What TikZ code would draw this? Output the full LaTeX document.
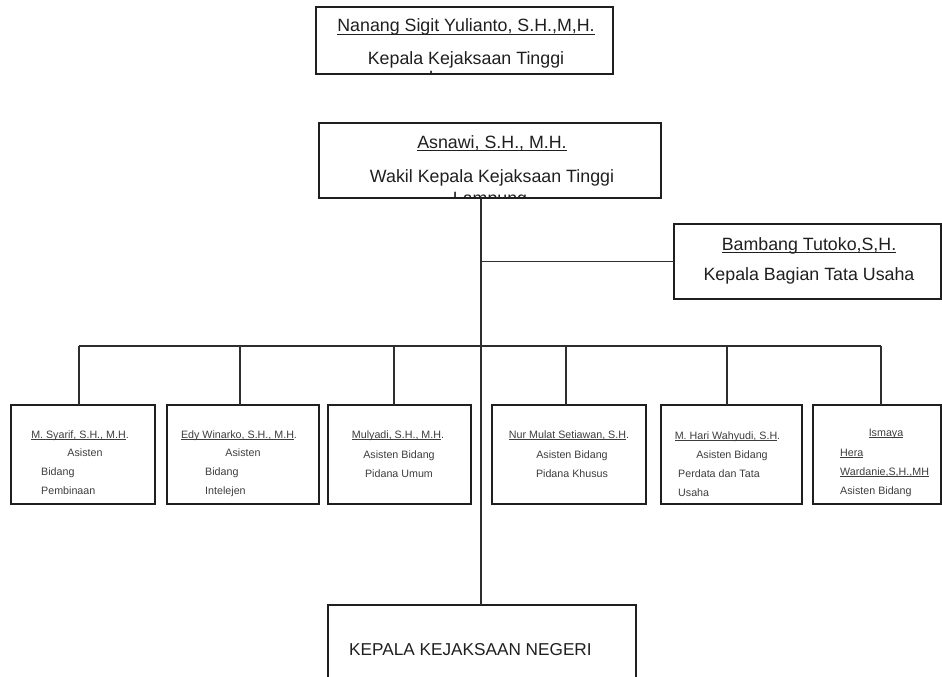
\documentclass[tikz,border=0pt]{standalone}
\usepackage{fontspec}
\setmainfont{Liberation Sans}
\newcommand\uln[1]{{\setbox0\hbox{#1}\rlap{\rule[-0.17em]{\wd0}{0.07em}}\box0}}
\begin{document}
\begin{tikzpicture}[x=1pt,y=-1pt,
  box/.style={draw=black!88, line width=1.8pt, inner sep=0pt, outer sep=0pt, rectangle},
  conn/.style={draw=black!82, line width=1.2pt},
  big/.style={font=\fontsize{17.8}{20}\selectfont, text=black!88, inner sep=0pt, anchor=base},
  small/.style={font=\fontsize{10.7}{12}\selectfont, text=black!76, inner sep=0pt, anchor=base},
  lalign/.style={anchor=base west}]
\useasboundingbox (0,0) rectangle (942,677);
\clip (0,0) rectangle (942,677);
% boxes
\node[box, minimum width=297, minimum height=67] (top) at (464.5,40.5) {};
\node[box, minimum width=342, minimum height=75] (wakil) at (490,160.5) {};
\node[box, minimum width=267, minimum height=75] (kabag) at (807.5,261.5) {};
\node[box, minimum width=144, minimum height=99] (a1) at (83,454.5) {};
\node[box, minimum width=152, minimum height=99] (a2) at (243,454.5) {};
\node[box, minimum width=143, minimum height=99] (a3) at (399.5,454.5) {};
\node[box, minimum width=154, minimum height=99] (a4) at (569,454.5) {};
\node[box, minimum width=141, minimum height=99] (a5) at (731.5,454.5) {};
\node[box, minimum width=128, minimum height=99] (a6) at (877,454.5) {};
\node[box, minimum width=308, minimum height=100, anchor=north] (kajari) at (482,605) {};
% connectors
\coordinate (trunk) at (481,346);
\coordinate (d1) at (79,346);
\coordinate (d2) at (240,346);
\coordinate (d3) at (394,346);
\coordinate (d4) at (566,346);
\coordinate (d5) at (727,346);
\coordinate (d6) at (881,346);
\draw[conn] (trunk |- wakil.south) -- (trunk |- kajari.north);
\draw[conn] (trunk |- kabag.west) -- (kabag.west);
\draw[conn] (d1) -- (d6);
\foreach \i in {1,...,6} { \draw[conn] (d\i) -- (d\i |- a\i.north); }
% top box text
\node[big] (tn1) at (466,32) {\uln{Nanang Sigit Yulianto, S.H.,M,H.}};
\node[big] (tn2) at (466,64) {Kepala Kejaksaan Tinggi};
\begin{scope}
  \clip (top.north west) rectangle (top.south east);
  \node[big] (tn3) at (466,84) {Lampung};
\end{scope}
% wakil text
\node[big] (wn1) at (492,148) {\uln{Asnawi, S.H., M.H.}};
\node[big] (wn2) at (492,182) {Wakil Kepala Kejaksaan Tinggi};
\begin{scope}
  \clip (wakil.north west) rectangle (wakil.south east);
  \node[big] (wn3) at (490,204) {Lampung};
\end{scope}
% kabag text
\node[big] (kn1) at (809,250) {\uln{Bambang Tutoko,S,H.}};
\node[big] (kn2) at (809,280) {Kepala Bagian Tata Usaha};
% kajari text
\node[big, lalign, font=\fontsize{17.2}{20}\selectfont] (jn1) at (349,655) {KEPALA KEJAKSAAN NEGERI};
% a1
\node[small] (s11) at (80,438) {\uln{M. Syarif, S.H., M.H}.};
\node[small] (s12) at (85,456) {Asisten};
\node[small, lalign] (s13) at (41,475) {Bidang};
\node[small, lalign] (s14) at (41,494) {Pembinaan};
% a2
\node[small] (s21) at (239,438) {\uln{Edy Winarko, S.H., M.H}.};
\node[small] (s22) at (243,456) {Asisten};
\node[small, lalign] (s23) at (205,475) {Bidang};
\node[small, lalign] (s24) at (205,494) {Intelejen};
% a3
\node[small] (s31) at (398,438) {\uln{Mulyadi, S.H., M.H}.};
\node[small] (s32) at (399,458) {Asisten Bidang};
\node[small] (s33) at (399,477) {Pidana Umum};
% a4
\node[small] (s41) at (569,438) {\uln{Nur Mulat Setiawan, S.H}.};
\node[small] (s42) at (572,458) {Asisten Bidang};
\node[small] (s43) at (572,477) {Pidana Khusus};
% a5
\node[small] (s51) at (727.5,439) {\uln{M. Hari Wahyudi, S.H}.};
\node[small] (s52) at (732,458) {Asisten Bidang};
\node[small, lalign] (s53) at (678,477) {Perdata dan Tata};
\node[small, lalign] (s54) at (678,496) {Usaha};
% a6
\node[small] (s61) at (886,436) {\uln{Ismaya}};
\node[small, lalign] (s62) at (840,456) {\uln{Hera}};
\node[small, lalign] (s63) at (840,475) {\uln{Wardanie,S,H.,MH}};
\node[small, lalign] (s64) at (840,494) {Asisten Bidang};
\end{tikzpicture}
\end{document}
